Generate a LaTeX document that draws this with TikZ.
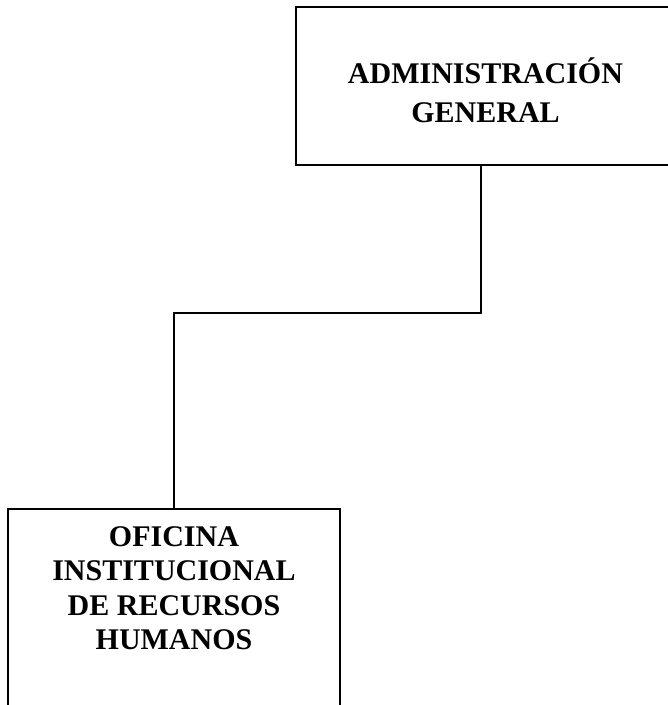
\documentclass[tikz,border=0pt]{standalone}
\usepackage{fontspec}
\setmainfont{Liberation Serif}
\begin{document}
\begin{tikzpicture}[x=1pt,y=-1pt,
  box/.style={draw=black,line width=1.1pt,fill=none,inner sep=0pt},
  boxtext/.style={font=\fontsize{30}{34.6}\selectfont\bfseries,align=center,inner sep=0pt,anchor=north},
  wire/.style={draw=black,line width=1.1pt}]
\useasboundingbox (0,0) rectangle (668,705);
\clip (0,0) rectangle (668,705);
% boxes
\node[box,minimum width=384pt,minimum height=158pt] (admin) at (488,86) {};
\node[box,minimum width=332pt,minimum height=211pt] (oficina) at (174,614.5) {};
% texts
\node[boxtext,font=\fontsize{30}{38.4}\selectfont\bfseries] (admintxt) at (485.5,58) {ADMINISTRACIÓN\\GENERAL};
\node[boxtext] (oficinatxt) at (174,526) {OFICINA\\INSTITUCIONAL\\DE RECURSOS\\HUMANOS};
% connector
\coordinate (bend1) at (481,313);
\coordinate (bend2) at (174,313);
\draw[wire] (admin.south -| bend1) -- (bend1) -- (bend2) -- (oficina.north);
\end{tikzpicture}
\end{document}
